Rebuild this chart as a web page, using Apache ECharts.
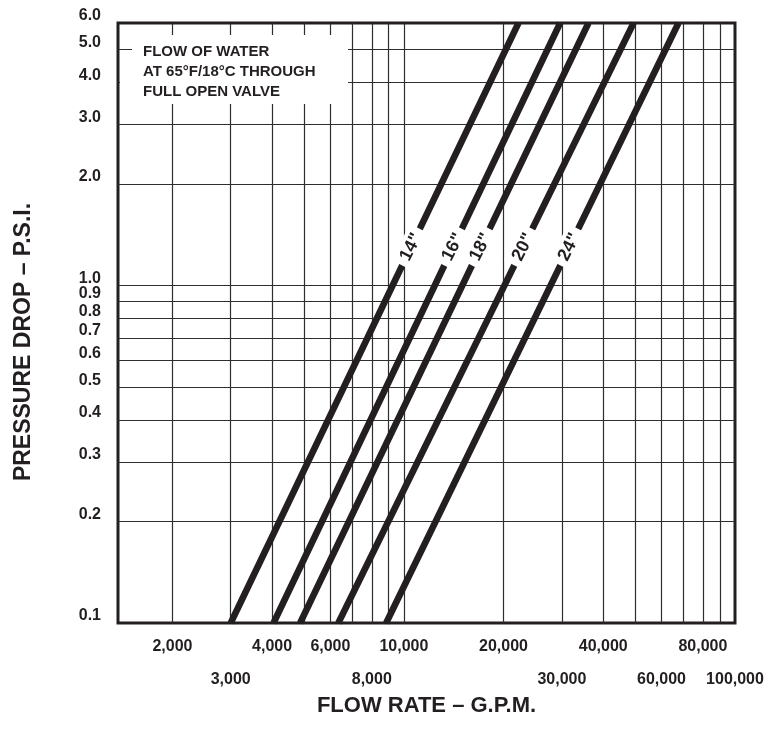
<!DOCTYPE html>
<html>
<head>
<meta charset="utf-8">
<script src="https://cdn.jsdelivr.net/npm/echarts@6/dist/echarts.min.js"></script>
<style>
html,body{margin:0;padding:0;background:#fff}
#chart{width:778px;height:741px}
</style>
</head>
<body>
<div id="chart"></div>
<script>
// ---------------- data ----------------
const sizes = ['14"', '16"', '18"', '20"', '24"'];
const pressureEnds = [0.1, 6.0];            // P.S.I. at the two ends of each line
const flow14 = [3000, 22190];               // G.P.M. at 0.1 and 6.0 psi
const flow16 = [4040, 29650];
const flow18 = [4860, 36100];
const flow20 = [6340, 49400];
const flow24 = [8840, 67500];

const xGridValues = [2000, 3000, 4000, 5000, 6000, 7000, 8000, 9000, 10000,
                     20000, 30000, 40000, 50000, 60000, 70000, 80000, 90000];
const xTickLabels = [2000, 3000, 4000, 6000, 8000, 10000, 20000, 30000, 40000, 60000, 80000, 100000];
const xLowerRowLabels = [3000, 8000, 30000, 60000, 100000];
const yGridValues = [0.2, 0.3, 0.4, 0.5, 0.6, 0.7, 0.8, 0.9, 1, 2, 3, 4, 5];
const yTickLabels = [0.1, 0.2, 0.3, 0.4, 0.5, 0.6, 0.7, 0.8, 0.9, 1, 2, 3, 4, 5, 6];
const noteLines = ['FLOW OF WATER', 'AT 65°F/18°C THROUGH', 'FULL OPEN VALVE'];
const xTitle = 'FLOW RATE – G.P.M.';
const yTitle = 'PRESSURE DROP – P.S.I.';

// ---------------- styling ----------------
const INK = '#231f20';
const FONT = '"Liberation Sans", Arial, Helvetica, sans-serif';
const LABEL_P = 1.3;   // pressure at which the size labels sit along each line
const flows = [flow14, flow16, flow18, flow20, flow24];

function flowAt(f, p) {
  const t = Math.log(p / pressureEnds[0]) / Math.log(pressureEnds[1] / pressureEnds[0]);
  return f[0] * Math.pow(f[1] / f[0], t);
}

const series = flows.map((f, i) => ({
  type: 'line',
  name: sizes[i],
  data: [[f[0], pressureEnds[0]], [f[1], pressureEnds[1]]],
  symbol: 'none',
  clip: true,
  silent: true,
  lineStyle: { color: INK, width: 6.5, cap: 'butt' },
  markPoint: {
    symbol: 'rect',
    symbolSize: 1,
    silent: true,
    itemStyle: { color: 'rgba(0,0,0,0)' },
    label: {
      show: true,
      position: 'inside',
      formatter: sizes[i],
      rotate: 63,
      color: INK,
      fontFamily: FONT,
      fontWeight: 'bold',
      fontSize: 18,
      backgroundColor: '#fff',
      padding: [3, 6, 2, 6]
    },
    data: [{ coord: [flowAt(f, LABEL_P), LABEL_P] }]
  }
}));

const chart = echarts.init(document.getElementById('chart'), null, { renderer: 'canvas' });
chart.setOption({
  animation: false,
  backgroundColor: '#fff',
  grid: {
    left: 118, right: 43, top: 23, bottom: 118,
    containLabel: false,
    outerBoundsMode: 'none',
    show: true,
    borderColor: INK,
    borderWidth: 3,
    backgroundColor: 'transparent'
  },
  xAxis: {
    type: 'log',
    logBase: 10,
    min: 1370,
    max: 100000,
    axisLine: { show: false },
    axisTick: { show: false, customValues: xGridValues },
    splitLine: { show: true, lineStyle: { color: '#2e2e2e', width: 1.2 } },
    minorSplitLine: { show: false },
    axisLabel: {
      customValues: xTickLabels,
      showMinLabel: true,
      showMaxLabel: true,
      hideOverlap: false,
      margin: 16,
      formatter: v => {
        const n = Math.round(v);
        const txt = n.toLocaleString('en-US');
        return xLowerRowLabels.indexOf(n) >= 0 ? '{b|' + txt + '}' : '{a|' + txt + '}';
      },
      rich: {
        a: { fontFamily: FONT, fontWeight: 'bold', fontSize: 16, color: INK },
        b: { fontFamily: FONT, fontWeight: 'bold', fontSize: 16, color: INK, padding: [33, 0, 0, 0] }
      }
    },
    name: xTitle,
    nameLocation: 'middle',
    nameGap: 72,
    nameTextStyle: { fontFamily: FONT, fontWeight: 'bold', fontSize: 22, color: INK }
  },
  yAxis: {
    type: 'log',
    logBase: 10,
    min: 0.1,
    max: 6,
    axisLine: { show: false },
    axisTick: { show: false, customValues: yGridValues },
    splitLine: { show: true, lineStyle: { color: '#2e2e2e', width: 1.2 } },
    axisLabel: {
      customValues: yTickLabels,
      showMinLabel: true,
      showMaxLabel: true,
      hideOverlap: false,
      margin: 17,
      fontFamily: FONT,
      fontWeight: 'bold',
      fontSize: 16,
      color: INK,
      lineHeight: 14,
      verticalAlign: 'bottom',
      formatter: v => (Math.round(v * 10) / 10).toFixed(1)
    },
    name: yTitle,
    nameLocation: 'middle',
    nameGap: 83,
    nameTextStyle: { fontFamily: FONT, fontWeight: 'bold', fontSize: 23, color: INK, padding: [0, 38, 0, 0] }
  },
  graphic: [
    { type: 'rect', z: 50, shape: { x: 132, y: 35, width: 216, height: 69 }, style: { fill: '#fff' } },
    { type: 'rect', z: 50, shape: { x: 120, y: 60, width: 14, height: 42 }, style: { fill: '#fff' } },
    {
      type: 'text', z: 51, x: 143, y: 42,
      style: {
        text: noteLines.join('\n'),
        font: 'bold 15px ' + FONT,
        fill: INK,
        lineHeight: 20
      }
    }
  ],
  series: series
});
</script>
</body>
</html>
